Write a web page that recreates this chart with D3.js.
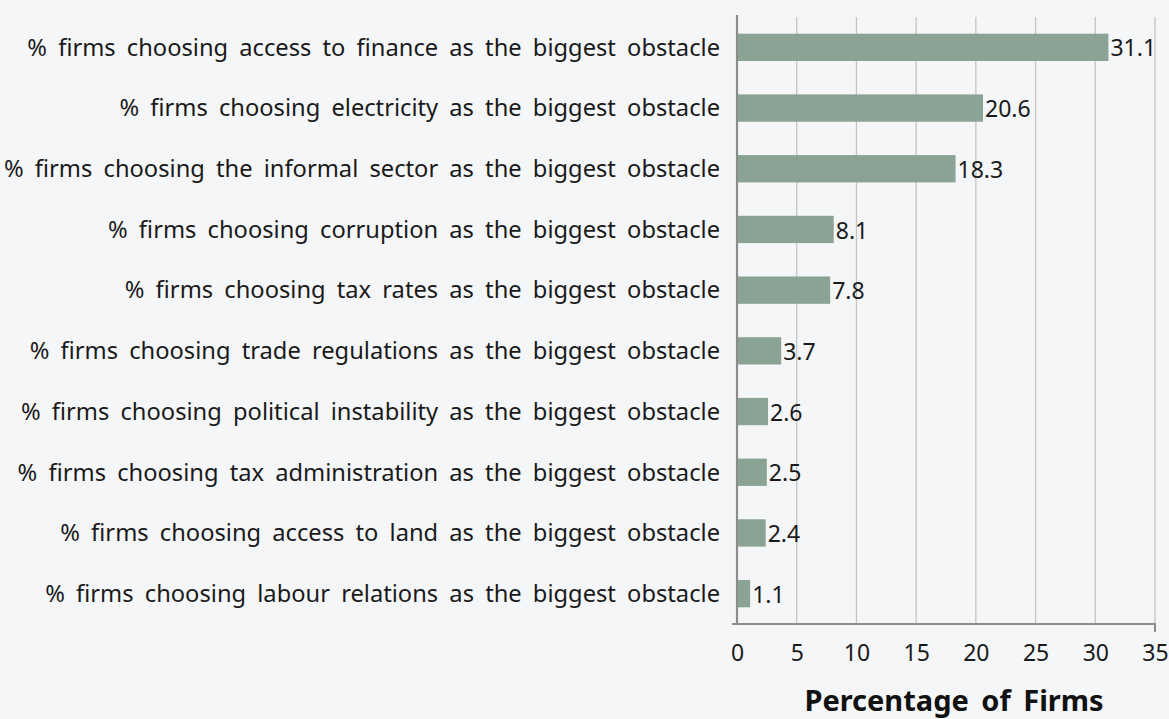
<!DOCTYPE html>
<html><head><meta charset="utf-8">
<script src="https://cdn.jsdelivr.net/npm/d3@7"></script>
<style>
html,body{margin:0;padding:0;background:#f5f6f8;}
svg{display:block;}
</style></head>
<body>
<svg id="chart" width="1169" height="719"></svg>
<script>
const categories = [
  "% firms choosing access to finance as the biggest obstacle",
  "% firms choosing electricity as the biggest obstacle",
  "% firms choosing the informal sector as the biggest obstacle",
  "% firms choosing corruption as the biggest obstacle",
  "% firms choosing tax rates as the biggest obstacle",
  "% firms choosing trade regulations as the biggest obstacle",
  "% firms choosing political instability as the biggest obstacle",
  "% firms choosing tax administration as the biggest obstacle",
  "% firms choosing access to land as the biggest obstacle",
  "% firms choosing labour relations as the biggest obstacle"
];
const values = [31.1, 20.6, 18.3, 8.1, 7.8, 3.7, 2.6, 2.5, 2.4, 1.1];
const xTicks = [0, 5, 10, 15, 20, 25, 30, 35];
const axisTitle = "Percentage of Firms";

const svg = d3.select("#chart");
const font = "'Noto Sans', 'Open Sans', sans-serif";
const x = d3.scaleLinear().domain([0, 35]).range([737, 1155]);
const y = d3.scaleBand().domain(categories).range([17, 624]).paddingInner(0.55).paddingOuter(0.275);

// gridlines
svg.append("g").selectAll("line").data(xTicks.slice(1)).join("line")
  .attr("x1", d => x(d)).attr("x2", d => x(d))
  .attr("y1", 17).attr("y2", 624)
  .attr("stroke", "#c4c4c4").attr("stroke-width", 1.3);

// bars
svg.append("g").selectAll("rect").data(values).join("rect")
  .attr("x", x(0)).attr("y", (d, i) => y(categories[i]))
  .attr("width", d => x(d) - x(0)).attr("height", y.bandwidth())
  .attr("fill", "#8aa394");

// value labels
svg.append("g").selectAll("text").data(values).join("text")
  .attr("x", d => x(d) + 2).attr("y", (d, i) => y(categories[i]) + y.bandwidth() / 2 + 1)
  .attr("dy", "0.35em")
  .attr("font-family", font).attr("font-size", 23).attr("fill", "#1a1a1a")
  .text(d => d.toFixed(1));

// y axis line
svg.append("line").attr("x1", x(0)).attr("x2", x(0)).attr("y1", 15).attr("y2", 624)
  .attr("stroke", "#8c8c8c").attr("stroke-width", 2.2);
// x axis
const xAxis = d3.axisBottom(x).tickValues(xTicks).tickSize(0).tickPadding(21);
const gx = svg.append("g").attr("transform", "translate(0,624)").call(xAxis);
gx.select(".domain").attr("stroke", "#8c8c8c").attr("stroke-width", 2).attr("d", `M${x(0)-5},0H${x(35)}V8`);
gx.selectAll("text").attr("font-family", font).attr("font-size", 23).attr("fill", "#1a1a1a");

// category labels
const labels = svg.append("g").selectAll("text").data(categories).join("text")
  .attr("x", 720).attr("y", d => y(d) + y.bandwidth() / 2).attr("dy", "0.35em")
  .attr("text-anchor", "end")
  .attr("font-family", font).attr("font-size", 22).attr("fill", "#1a1a1a")
  .attr("word-spacing", 5)
  .text(d => d);
// fit font size so the first label spans the same width as the reference
const w0 = labels.node().getComputedTextLength();
const gaps = categories[0].split(" ").length - 1;
const fs = 22 * (693 - gaps * 5) / (w0 - gaps * 5);
labels.attr("font-size", fs);

// axis title
svg.append("text").attr("x", 954).attr("y", 711).attr("text-anchor", "middle")
  .attr("font-family", font).attr("font-size", 29).attr("font-weight", "bold")
  .attr("fill", "#111").attr("word-spacing", 5).text(axisTitle);
</script>
</body></html>
